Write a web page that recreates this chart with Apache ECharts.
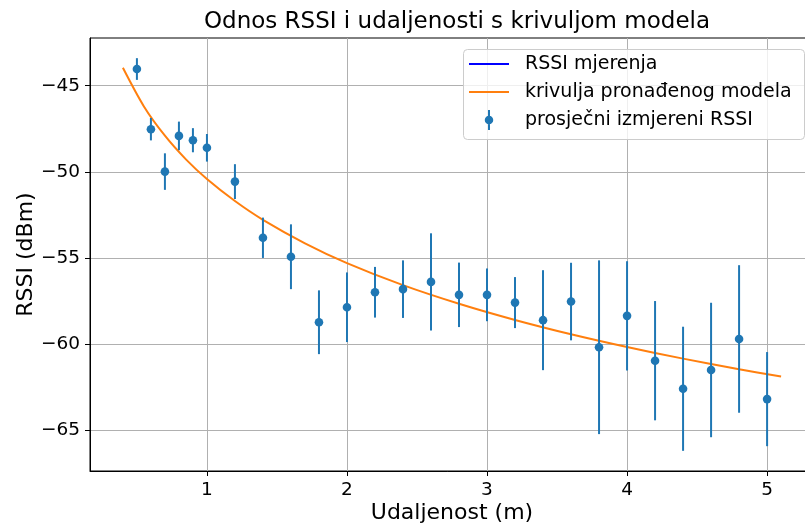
<!DOCTYPE html>
<html>
<head>
<meta charset="utf-8">
<script src="https://cdn.jsdelivr.net/npm/echarts@6/dist/echarts.min.js"></script>
<style>
  html, body { margin: 0; padding: 0; background: #fff; }
  #chart { width: 805px; height: 524px; }
</style>
</head>
<body>
<div id="chart"></div>
<script>
// Measured distances (m), mean RSSI (dBm) and its spread at each distance
const distances = [0.5, 0.6, 0.7, 0.8, 0.9, 1.0, 1.2, 1.4, 1.6, 1.8, 2.0, 2.2, 2.4, 2.6, 2.8, 3.0, 3.2, 3.4, 3.6, 3.8, 4.0, 4.2, 4.4, 4.6, 4.8, 5.0];
const meanRssi = [-44.03, -47.52, -49.98, -47.91, -48.16, -48.60, -50.56, -53.82, -54.92, -58.72, -57.85, -56.98, -56.80, -56.38, -57.13, -57.13, -57.58, -58.60, -57.52, -60.17, -58.35, -60.95, -62.58, -61.49, -59.69, -63.18];
const stdRssi = [0.63, 0.65, 1.06, 0.83, 0.70, 0.80, 1.01, 1.17, 1.88, 1.85, 2.02, 1.47, 1.67, 2.82, 1.87, 1.53, 1.48, 2.90, 2.25, 5.04, 3.17, 3.46, 3.60, 3.90, 4.28, 2.73];

// Fitted path-loss model curve
const modelX = [0.4, 0.55, 0.7, 0.85, 1.0, 1.2, 1.4, 1.7, 2.0, 2.4, 2.8, 3.2, 3.6, 4.0, 4.4, 4.8, 5.1];
const modelY = [-43.96, -46.20, -47.90, -49.27, -50.41, -51.69, -52.78, -54.14, -55.29, -56.57, -57.65, -58.59, -59.42, -60.16, -60.83, -61.45, -61.87];

// Raw measurements (plotted series kept for the legend entry)
const rawRssi = [];

const xTicks = [1, 2, 3, 4, 5];
const yTicks = [-65, -60, -55, -50, -45];

const FONT = 'DejaVu Sans';
const BLUE = '#1f77b4';
const ORANGE = '#ff7f0e';

const chart = echarts.init(document.getElementById('chart'), null, { renderer: 'canvas' });

const errData = distances.map((d, i) => [d, meanRssi[i], stdRssi[i]]);
const modelData = modelX.map((x, i) => [x, modelY[i]]);

const errIcon = 'path://M4,0H6V20H4Z M5,5.75A4.25,4.25 0 1,1 5,14.25A4.25,4.25 0 1,1 5,5.75Z';
const lineIcon = 'path://M0,0H40V2H0Z';

chart.setOption({
  animation: false,
  backgroundColor: '#fff',
  textStyle: { fontFamily: FONT },
  title: {
    text: 'Odnos RSSI i udaljenosti s krivuljom modela',
    left: 452,
    textAlign: 'center',
    top: 6,
    textStyle: { fontFamily: FONT, fontSize: 23, fontWeight: 'normal', color: '#000' }
  },
  grid: {
    left: 90, top: 38, width: 724, height: 433,
    outerBoundsMode: 'none',
    containLabel: false,
    show: true, borderColor: '#000', borderWidth: 1, backgroundColor: 'transparent'
  },
  xAxis: {
    type: 'value',
    min: 0.165, max: 5.335,
    name: 'Udaljenost (m)',
    nameLocation: 'middle',
    nameGap: 31,
    nameMoveOverlap: false,
    nameTextStyle: { fontFamily: FONT, fontSize: 22, color: '#000' },
    axisLine: { show: true, onZero: false, lineStyle: { color: '#000', width: 1 } },
    axisTick: { show: true, length: 5, inside: false, customValues: xTicks, lineStyle: { color: '#000', width: 1 } },
    axisLabel: { customValues: xTicks, margin: 10, fontFamily: FONT, fontSize: 18.5, color: '#000' },
    splitLine: { show: true, lineStyle: { color: '#b0b0b0', width: 1 } }
  },
  yAxis: {
    type: 'value',
    min: -67.35, max: -42.23,
    name: 'RSSI (dBm)',
    nameLocation: 'middle',
    nameRotate: 90,
    nameGap: 53,
    nameMoveOverlap: false,
    nameTextStyle: { fontFamily: FONT, fontSize: 22, color: '#000' },
    axisLine: { show: true, onZero: false, lineStyle: { color: '#000', width: 1 } },
    axisTick: { show: true, length: 5, inside: false, customValues: yTicks, lineStyle: { color: '#000', width: 1 } },
    axisLabel: {
      customValues: yTicks, margin: 10, fontFamily: FONT, fontSize: 18.5, color: '#000',
      formatter: v => (v < 0 ? '\u2212' + Math.abs(v) : String(v))
    },
    splitLine: { show: true, lineStyle: { color: '#b0b0b0', width: 1 } }
  },
  graphic: [{
    type: 'rect',
    left: 463, top: 49,
    shape: { width: 341, height: 90, r: 4 },
    style: { fill: 'rgba(255,255,255,0.8)', stroke: '#cccccc', lineWidth: 1 },
    z: 100
  }],
  legend: {
    orient: 'vertical',
    left: 469, top: 54,
    padding: 0,
    itemWidth: 40, itemHeight: 20, itemGap: 8,
    z: 110,
    textStyle: { fontFamily: FONT, fontSize: 19, color: '#000', padding: [0, 0, 0, 11], lineHeight: 20 },
    data: [
      { name: 'RSSI mjerenja', icon: lineIcon, itemStyle: { color: '#0000ff' } },
      { name: 'krivulja pronađenog modela', icon: lineIcon, itemStyle: { color: ORANGE } },
      { name: 'prosječni izmjereni RSSI', icon: errIcon, itemStyle: { color: BLUE } }
    ]
  },
  series: [
    {
      name: 'RSSI mjerenja',
      type: 'line',
      data: rawRssi,
      symbol: 'none',
      itemStyle: { color: '#0000ff' },
      lineStyle: { color: '#0000ff', width: 2 }
    },
    {
      name: 'krivulja pronađenog modela',
      type: 'line',
      data: modelData,
      symbol: 'none',
      smooth: 0.3,
      itemStyle: { color: ORANGE },
      lineStyle: { color: ORANGE, width: 2 },
      z: 3
    },
    {
      name: 'prosječni izmjereni RSSI',
      type: 'custom',
      data: errData,
      itemStyle: { color: BLUE },
      z: 4,
      encode: { x: 0, y: 1 },
      renderItem: function (params, api) {
        const x = api.value(0);
        const y = api.value(1);
        const e = api.value(2);
        const top = api.coord([x, y + e]);
        const bot = api.coord([x, y - e]);
        const c = api.coord([x, y]);
        return {
          type: 'group',
          children: [
            { type: 'line', shape: { x1: top[0], y1: top[1], x2: bot[0], y2: bot[1] }, style: { stroke: BLUE, lineWidth: 2 } },
            { type: 'circle', shape: { cx: c[0], cy: c[1], r: 4.3 }, style: { fill: BLUE } }
          ]
        };
      }
    }
  ]
});
</script>
</body>
</html>
